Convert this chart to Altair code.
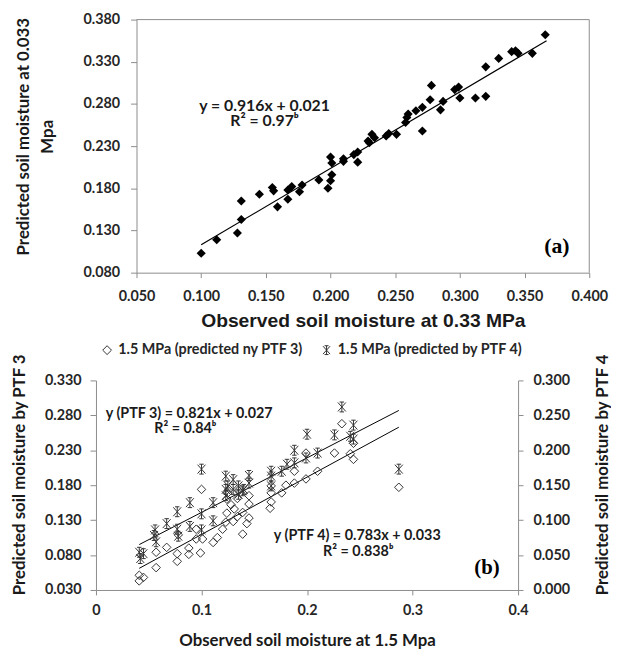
import altair as alt
import pandas as pd

# ---------------- panel (a) data ----------------
obs_033 = [0.100, 0.112, 0.128, 0.131, 0.131, 0.145, 0.155, 0.156, 0.159, 0.167,
           0.167, 0.170, 0.176, 0.178, 0.191, 0.198, 0.200, 0.201, 0.201, 0.200,
           0.210, 0.210, 0.218, 0.221, 0.221, 0.230, 0.229, 0.232, 0.234, 0.243,
           0.245, 0.251, 0.258, 0.259, 0.260, 0.266, 0.271, 0.271, 0.277, 0.278,
           0.285, 0.287, 0.296, 0.299, 0.300, 0.312, 0.320, 0.320, 0.330, 0.340,
           0.343, 0.345, 0.356, 0.366]
pred_033 = [0.103, 0.119, 0.127, 0.143, 0.165, 0.173, 0.181, 0.177, 0.158, 0.167,
            0.178, 0.182, 0.176, 0.184, 0.190, 0.180, 0.189, 0.196, 0.210, 0.217,
            0.215, 0.212, 0.220, 0.223, 0.211, 0.234, 0.236, 0.244, 0.240, 0.242,
            0.245, 0.244, 0.258, 0.264, 0.268, 0.272, 0.276, 0.248, 0.285, 0.302,
            0.273, 0.283, 0.297, 0.300, 0.287, 0.287, 0.289, 0.324, 0.334, 0.342,
            0.343, 0.340, 0.340, 0.362]
fit_a_x = [0.100, 0.367]
fit_a_y = [0.113, 0.355]
# plot frame of panel (a): x from 0.05 to 0.4, y from 0.08 to 0.38
frame_a_x = [0.05, 0.40]
frame_a_y = [0.08, 0.38]

# ---------------- panel (b) data ----------------
obs_ptf3 = [0.041, 0.041, 0.045, 0.057, 0.057, 0.067, 0.077, 0.077, 0.078, 0.088,
            0.088, 0.095, 0.099, 0.101, 0.100, 0.095, 0.111, 0.120, 0.123, 0.130,
            0.131, 0.139, 0.139, 0.145, 0.145, 0.145, 0.124, 0.125, 0.134, 0.165,
            0.166, 0.166, 0.166, 0.176, 0.180, 0.188, 0.188, 0.199, 0.199, 0.210,
            0.226, 0.233, 0.241, 0.244, 0.244, 0.287, 0.124, 0.134, 0.128, 0.143,
            0.115]
pred_ptf3 = [0.051, 0.043, 0.048, 0.062, 0.084, 0.091, 0.071, 0.082, 0.109, 0.081,
             0.090, 0.103, 0.083, 0.103, 0.174, 0.117, 0.098, 0.117, 0.127, 0.128,
             0.146, 0.110, 0.141, 0.133, 0.153, 0.165, 0.160, 0.169, 0.161, 0.147,
             0.156, 0.169, 0.179, 0.169, 0.180, 0.183, 0.200, 0.189, 0.226, 0.200,
             0.226, 0.268, 0.225, 0.217, 0.240, 0.177, 0.140, 0.135, 0.152, 0.125,
             0.105]
obs_ptf4 = [0.041, 0.042, 0.056, 0.057, 0.067, 0.077, 0.077, 0.078, 0.089, 0.089,
            0.100, 0.100, 0.100, 0.111, 0.111, 0.123, 0.123, 0.125, 0.130, 0.135,
            0.139, 0.145, 0.145, 0.166, 0.166, 0.166, 0.176, 0.181, 0.188, 0.188,
            0.199, 0.200, 0.210, 0.226, 0.233, 0.241, 0.244, 0.244, 0.287, 0.123,
            0.135, 0.130, 0.140, 0.045, 0.055]
pred_ptf4 = [0.054, 0.045, 0.086, 0.069, 0.095, 0.087, 0.112, 0.077, 0.091, 0.125,
             0.109, 0.173, 0.086, 0.125, 0.099, 0.163, 0.135, 0.149, 0.144, 0.149,
             0.142, 0.164, 0.153, 0.170, 0.163, 0.149, 0.170, 0.180, 0.182, 0.200,
             0.189, 0.223, 0.196, 0.222, 0.262, 0.220, 0.236, 0.216, 0.173, 0.144,
             0.137, 0.158, 0.144, 0.052, 0.078]
fit3_x = [0.041, 0.287]
fit3_y = [0.061, 0.263]
fit4_x = [0.041, 0.287]
fit4_y = [0.065, 0.257]

series_labels = ["1.5 MPa (predicted ny PTF 3)", "1.5 MPa (predicted by PTF 4)"]

# tick values
a_x_ticks = [0.05, 0.10, 0.15, 0.20, 0.25, 0.30, 0.35, 0.40]
a_y_ticks = [0.08, 0.13, 0.18, 0.23, 0.28, 0.33, 0.38]
b_x_ticks = [0.0, 0.1, 0.2, 0.3, 0.4]
b_left_ticks = [0.03, 0.08, 0.13, 0.18, 0.23, 0.28, 0.33]
b_right_ticks = [0.0, 0.05, 0.10, 0.15, 0.20, 0.25, 0.30]

# annotations
ann_a = pd.DataFrame({"x": [0.149, 0.149], "y": [0.2778, 0.2600],
                      "t": ["y = 0.916x + 0.021", "R² = 0.97ᵇ"]})
lab_a = pd.DataFrame({"x": [0.375], "y": [0.111], "t": ["(a)"]})
ann_b = pd.DataFrame({"x": [0.0883, 0.0846, 0.2476, 0.2485],
                      "y": [0.2822, 0.2598, 0.1075, 0.0840],
                      "t": ["y (PTF 3) = 0.821x + 0.027", "R² = 0.84ᵇ",
                            "y (PTF 4) = 0.783x + 0.033", "R² = 0.838ᵇ"]})
lab_b = pd.DataFrame({"x": [0.3706], "y": [0.0608], "t": ["(b)"]})

FONT = "Lato"
AX = "#8c8c8c"
LC = "#262626"
STAR = "M-0.8,-0.9L0.8,0.9M-0.8,0.9L0.8,-0.9M0,-1L0,1M-0.45,-1L0.45,-1M-0.45,1L0.45,1"

# panel (a) is shifted right of panel (b) by this many pixels
SHIFT = 41
WA, HA = 458, 256

common_axis = dict(domainColor=AX, tickColor=AX, grid=False, labelFont=FONT,
                   labelFontSize=14.5, labelFontWeight="bold", labelColor=LC,
                   labelFlush=False, titleColor="#1a1a1a", titleFontWeight="bold")

# ---------------- panel (a) ----------------
df_a = pd.DataFrame({"x": obs_033, "y": pred_033})
df_fa = pd.DataFrame({"x": fit_a_x, "y": fit_a_y})
df_top = pd.DataFrame({"x": [frame_a_x[0]], "x2": [frame_a_x[1]], "y": [frame_a_y[1]]})
df_right = pd.DataFrame({"x": [frame_a_x[1]], "y": [frame_a_y[0]], "y2": [frame_a_y[1]]})

xscale_a = alt.Scale(domain=[0.05, 0.4], nice=False, zero=False, range=[SHIFT, SHIFT + WA])
yscale_a = alt.Scale(domain=[0.08, 0.38], nice=False, zero=False)

xa = alt.X("x:Q", scale=xscale_a,
           axis=alt.Axis(values=a_x_ticks, format=".3f", tickSize=5, labelPadding=12,
                         title="Observed soil moisture at 0.33 MPa",
                         titleFont="Liberation Sans", titleFontSize=19.5,
                         titleX=SHIFT + 229, titleY=48.7, titleBaseline="middle",
                         titleAlign="center", **common_axis))
ya = alt.Y("y:Q", scale=yscale_a,
           axis=alt.Axis(values=a_y_ticks, format=".3f", tickSize=6, labelPadding=11,
                         offset=-SHIFT,
                         title=["Predicted soil moisture at 0.033", "Mpa"],
                         titleFont=FONT, titleFontSize=17, titleLineHeight=24,
                         titleAngle=-90, titleX=-114, titleY=118,
                         titleBaseline="middle", titleAlign="center",
                         **common_axis))

frame_top = alt.Chart(df_top).mark_rule(color=AX, strokeWidth=1).encode(
    x=xa, x2="x2:Q", y=ya)
frame_right = alt.Chart(df_right).mark_rule(color=AX, strokeWidth=1).encode(
    x=xa, y=ya, y2="y2:Q")
pts_a = alt.Chart(df_a).mark_point(shape="diamond", filled=True, color="black",
                                   size=85, opacity=1).encode(x=xa, y=ya)
line_a = alt.Chart(df_fa).mark_line(color="black", strokeWidth=1.2).encode(x=xa, y=ya)
txt_a = alt.Chart(ann_a).mark_text(font=FONT, fontSize=16, fontWeight="bold",
                                   color="#1a1a1a").encode(x=xa, y=ya, text="t:N")
tag_a = alt.Chart(lab_a).mark_text(font="Liberation Serif", fontSize=22, fontWeight="bold",
                                   color="black").encode(x=xa, y=ya, text="t:N")

top = alt.layer(pts_a, line_a, frame_top, frame_right, txt_a, tag_a).properties(
    width=WA + SHIFT, height=HA)

# ---------------- panel (b) ----------------
df3 = pd.DataFrame({"x": obs_ptf3, "y": pred_ptf3, "s": series_labels[0]})
df4 = pd.DataFrame({"x": obs_ptf4, "y4": pred_ptf4, "s": series_labels[1]})
df_f3 = pd.DataFrame({"x": fit3_x, "y": fit3_y})
df_f4 = pd.DataFrame({"x": fit4_x, "y4": fit4_y})

xb = alt.X("x:Q", scale=alt.Scale(domain=[0, 0.4], nice=False),
           axis=alt.Axis(values=b_x_ticks,
                         labelExpr="datum.value == 0 ? '0' : format(datum.value, '.1f')",
                         tickSize=5, labelPadding=9,
                         title="Observed soil moisture at 1.5 Mpa",
                         titleFont=FONT, titleFontSize=17,
                         titleX=213.5, titleY=51, titleBaseline="middle", titleAlign="center",
                         **common_axis))
yl = alt.Y("y:Q", scale=alt.Scale(domain=[0.03, 0.33], nice=False, zero=False),
           axis=alt.Axis(orient="left", values=b_left_ticks, format=".3f", tickSize=6,
                         labelPadding=9, title="Predicted soil moisture by PTF 3",
                         titleFont=FONT, titleFontSize=17, titleAngle=-90,
                         titleX=-77.4, titleY=95, titleBaseline="middle", titleAlign="center",
                         **common_axis))
yr = alt.Y("y4:Q", scale=alt.Scale(domain=[0.0, 0.3], nice=False, zero=False),
           axis=alt.Axis(orient="right", values=b_right_ticks, format=".3f", tickSize=5,
                         labelPadding=10, title="Predicted soil moisture by PTF 4",
                         titleFont=FONT, titleFontSize=17, titleAngle=-90,
                         titleX=85.5, titleY=95, titleBaseline="middle", titleAlign="center",
                         **common_axis))

shape_enc = alt.Shape("s:N", scale=alt.Scale(domain=series_labels, range=["diamond", STAR]),
                      legend=alt.Legend(orient="none", legendX=4, legendY=-38,
                                        direction="horizontal", title=None,
                                        labelFont=FONT, labelFontSize=14.5, labelLimit=400,
                                        labelFontWeight="bold", labelColor=LC,
                                        symbolStrokeColor="#333", symbolFillColor="transparent",
                                        symbolStrokeWidth=1, symbolSize=80,
                                        labelOffset=4, columnPadding=16, padding=0))

pts3 = alt.Chart(df3).mark_point(filled=False, color="#333", size=75, strokeWidth=1,
                                 opacity=1).encode(x=xb, y=yl, shape=shape_enc)
ln3 = alt.Chart(df_f3).mark_line(color="black", strokeWidth=1).encode(x=xb, y=yl)
txt_b = alt.Chart(ann_b).mark_text(font=FONT, fontSize=14.5, fontWeight="bold",
                                   color="#1a1a1a").encode(x=xb, y=yl, text="t:N")
tag_b = alt.Chart(lab_b).mark_text(font="Liberation Serif", fontSize=21, fontWeight="bold",
                                   color="black").encode(x=xb, y=yl, text="t:N")
left_group = alt.layer(ln3, pts3, txt_b, tag_b)

pts4 = alt.Chart(df4).mark_point(filled=False, color="#333", size=100, strokeWidth=1,
                                 opacity=1).encode(x=xb, y=yr, shape=shape_enc)
ln4 = alt.Chart(df_f4).mark_line(color="black", strokeWidth=1).encode(x=xb, y=yr)
right_group = alt.layer(ln4, pts4)

bottom = alt.layer(left_group, right_group).resolve_scale(y="independent").properties(
    width=427, height=212)

chart = alt.vconcat(top, bottom, spacing=12).resolve_legend(
    shape="independent").configure_view(stroke=None).properties(
    padding={"left": 2, "top": 0, "right": 0, "bottom": 0})

chart.save("out.html", embed_options={"renderer": "svg", "actions": False})
